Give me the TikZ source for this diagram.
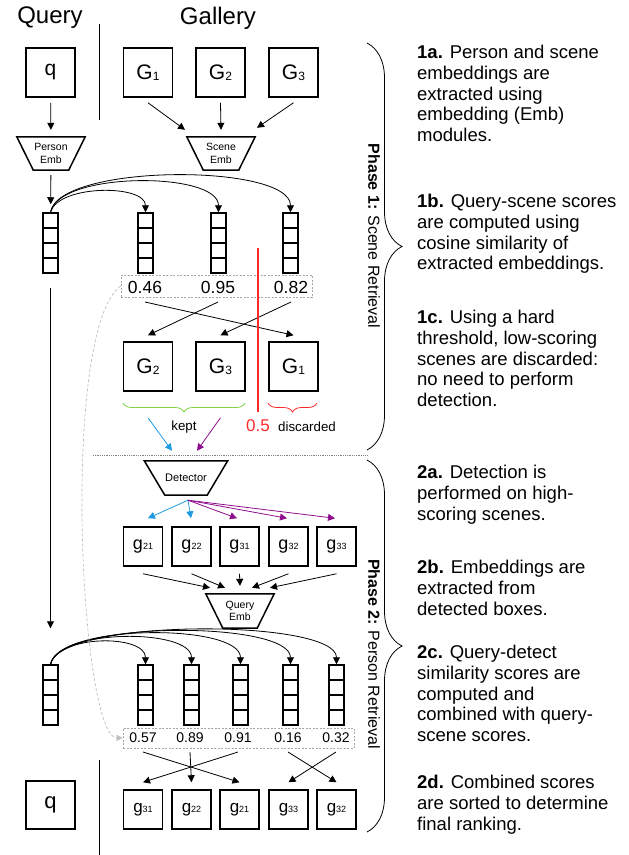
\documentclass[tikz,border=0pt]{standalone}
\usepackage{fontspec}
\setmainfont{Liberation Sans}
\usepackage{tikz}
\usetikzlibrary{arrows.meta,shapes.geometric,decorations.pathreplacing,calc}
\definecolor{kblue}{HTML}{1E9BE0}
\definecolor{kpurple}{HTML}{8E0E8E}
\definecolor{kgreen}{HTML}{80D040}
\definecolor{kred}{HTML}{FF2A2A}
\newcommand{\fsz}[1]{\fontsize{#1}{#1}\selectfont}
\newcommand{\sbx}[2]{\raisebox{-0.5pt}{\fsz{#1}#2}}

\begin{document}
\begin{tikzpicture}[x=1pt,y=-1pt,
    bigbox/.style={draw, line width=1.5pt, minimum width=49, minimum height=49, inner sep=0, font=\fsz{21}},
    gbox/.style={draw, line width=1.5pt, minimum width=39, minimum height=39, inner sep=0, font=\fsz{18}},
    vecbox/.style={draw, line width=1.5pt, minimum width=15, minimum height=60, inner sep=0, path picture={
        \foreach \k in {1,2,3}
          \draw[line width=1.5pt] ($(path picture bounding box.north west)!\k/4!(path picture bounding box.south west)$) -- ($(path picture bounding box.north east)!\k/4!(path picture bounding box.south east)$);}},
    emb/.style={inner sep=0, align=center, font=\fontsize{10.5}{12.5}\selectfont},
    embline/.style={line width=1.5pt, line join=miter},
    scorebox/.style={draw=gray!70, dash pattern=on 2pt off 1.5pt, line width=0.7pt, inner sep=0},
    arr/.style={-{Triangle[length=7pt,width=7pt]}, line width=0.8pt},
    note/.style={anchor=north west, align=left, inner sep=0, font=\fontsize{18.5}{20.7}\selectfont},
    phase/.style={rotate=-90, inner sep=0, font=\fsz{16}}
  ]
  \useasboundingbox (0,0) rectangle (629,855);

  \node[font=\fsz{24}] (hq) at (50,18) {Query};
  \node[font=\fsz{24}] (hg) at (218,18) {Gallery};
  \draw[line width=0.8pt] (99,24) -- (99,120);

  \node[bigbox] (q1) at (50.5,72.5) {q};
  \node[bigbox] (ga) at (148,72.5) {G\sbx{12}{1}};
  \node[bigbox] (gb) at (220.5,72.5) {G\sbx{12}{2}};
  \node[bigbox] (gc) at (293.5,72.5) {G\sbx{12}{3}};

  \node[emb, minimum width=68, minimum height=33] (pemb) at (51,153.5) {Person\\Emb};
  \draw[embline] (pemb.north west) -- (pemb.north east) -- ([xshift=-16.5pt]pemb.south east) -- ([xshift=16.5pt]pemb.south west) -- cycle;
  \node[emb, minimum width=68, minimum height=33] (semb) at (221,153.5) {Scene\\Emb};
  \draw[embline] (semb.north west) -- (semb.north east) -- ([xshift=-16.5pt]semb.south east) -- ([xshift=16.5pt]semb.south west) -- cycle;

  \draw[arr, shorten <=5pt, shorten >=7pt] (q1) -- (pemb);
  \draw[arr] ([yshift=-5pt]ga.south) -- ([shift={(-36,-7)}]semb.north);
  \draw[arr] ([yshift=-5pt]gb.south) -- ([shift={(0,-7)}]semb.north);
  \draw[arr] ([yshift=-5pt]gc.south) -- ([shift={(36,-9)}]semb.north);

  \node[vecbox] (vq1) at (50.5,243) {};
  \node[vecbox] (v1) at (145.5,243) {};
  \node[vecbox] (v2) at (218.5,243) {};
  \node[vecbox] (v3) at (290.5,243) {};

  \draw[arr, shorten <=5pt, shorten >=8pt] (pemb) -- (vq1);
  \draw[arr] (vq1.north) .. controls +(8,-28) and +(0,-28) .. (v1.north);
  \draw[arr] (vq1.north) .. controls +(8,-41) and +(0,-41) .. (v2.north);
  \draw[arr] (vq1.north) .. controls +(8,-49) and +(0,-49) .. (v3.north);

  \node[scorebox, minimum width=191, minimum height=22] (sc1) at (216.5,286) {};
  \node[font=\fsz{17.5}] (s1) at (145,287) {0.46};
  \node[font=\fsz{17.5}] (s2) at (218,287) {0.95};
  \node[font=\fsz{17.5}] (s3) at (291,287) {0.82};

  \node[bigbox] (r2) at (148,366.5) {G\sbx{12}{2}};
  \node[bigbox] (r3) at (220.5,366.5) {G\sbx{12}{3}};
  \node[bigbox] (r1) at (293.5,366.5) {G\sbx{12}{1}};

  \draw[arr] ([yshift=-15pt]s1.center) -- ([yshift=6pt]r1.north);
  \draw[arr] ([yshift=-15pt]s2.center) -- ([yshift=6pt]r2.north);
  \draw[arr] ([yshift=-15pt]s3.center) -- ([yshift=6pt]r3.north);

  \node[text=kred, font=\fsz{17}, inner sep=0] (th) at (258,426) {0.5};
  \draw[kred, line width=1.3pt] (258,248) -- ([yshift=8pt]th.north);

  \draw[kgreen, decorate, decoration={brace, amplitude=9pt}, line width=0.8pt] (245,403) -- (123,403);
  \draw[kred, decorate, decoration={brace, amplitude=9pt}, line width=0.8pt] (317,403) -- (268,403);
  \node[font=\fsz{13.3}] (kp) at (184,427) {kept};
  \node[font=\fsz{13.3}] (dc) at (307,427) {discarded};

  \draw[gray, densely dotted, line width=0.8pt] (93,455) -- (367,455);

  \node[emb, minimum width=83, minimum height=34, font=\fsz{11}] (det) at (186,478) {Detector};
  \draw[embline] (det.north west) -- (det.north east) -- ([xshift=-20.5pt]det.south east) -- ([xshift=20.5pt]det.south west) -- cycle;
  \draw[arr, kblue] ([yshift=-26pt]r2.south) -- ([shift={(-14,-10)}]det.north);
  \draw[arr, kpurple] ([yshift=-26pt]r3.south) -- ([shift={(11,-10)}]det.north);

  \node[gbox] (h1) at (143,546.5) {g\sbx{9}{21}};
  \node[gbox] (h2) at (191.5,546.5) {g\sbx{9}{22}};
  \node[gbox] (h3) at (239.5,546.5) {g\sbx{9}{31}};
  \node[gbox] (h4) at (288.5,546.5) {g\sbx{9}{32}};
  \node[gbox] (h5) at (336.5,546.5) {g\sbx{9}{33}};

  \coordinate (dt) at ([shift={(2,5)}]det.south);
  \draw[arr, kblue] (dt) -- ([shift={(5,-8)}]h1.north);
  \draw[arr, kblue] (dt) -- ([shift={(-0.5,-8)}]h2.north);
  \draw[arr, kpurple] (dt) -- ([shift={(-2.5,-8)}]h3.north);
  \draw[arr, kpurple] (dt) -- ([shift={(-1.5,-8)}]h4.north);
  \draw[arr, kpurple] (dt) -- ([shift={(-1.5,-8)}]h5.north);

  \node[emb, minimum width=68, minimum height=34] (qemb) at (240,611) {Query\\Emb};
  \draw[embline] (qemb.north west) -- (qemb.north east) -- ([xshift=-17pt]qemb.south east) -- ([xshift=17pt]qemb.south west) -- cycle;
  \draw[arr] ([yshift=-7pt]h1.south) -- ([shift={(-30,-6)}]qemb.north);
  \draw[arr] ([yshift=-7pt]h2.south) -- ([shift={(-15,-6)}]qemb.north);
  \draw[arr] ([yshift=-7pt]h3.south) -- ([shift={(0,-8)}]qemb.north);
  \draw[arr] ([yshift=-7pt]h4.south) -- ([shift={(12,-6)}]qemb.north);
  \draw[arr] ([yshift=-7pt]h5.south) -- ([shift={(30,-6)}]qemb.north);

  \node[vecbox] (vq2) at (50.5,695) {};
  \node[vecbox] (w1) at (145.5,695) {};
  \node[vecbox] (w2) at (191.5,695) {};
  \node[vecbox] (w3) at (240.5,695) {};
  \node[vecbox] (w4) at (290.5,695) {};
  \node[vecbox] (w5) at (336.5,695) {};

  \draw[arr, shorten <=14pt, shorten >=36pt] (vq1) -- (vq2);
  \draw[arr] (vq2.north) .. controls +(8,-30) and +(0,-30) .. (w1.north);
  \draw[arr] (vq2.north) .. controls +(8,-36) and +(0,-36) .. (w2.north);
  \draw[arr] (vq2.north) .. controls +(8,-41) and +(0,-41) .. (w3.north);
  \draw[arr] (vq2.north) .. controls +(8,-44) and +(0,-44) .. (w4.north);
  \draw[arr] (vq2.north) .. controls +(8,-46) and +(0,-46) .. (w5.north);

  \node[scorebox, minimum width=231, minimum height=20] (sc2) at (238.5,738) {};
  \node[font=\fsz{14}] (t1) at (143,738) {0.57};
  \node[font=\fsz{14}] (t2) at (190,738) {0.89};
  \node[font=\fsz{14}] (t3) at (238,738) {0.91};
  \node[font=\fsz{14}] (t4) at (288,738) {0.16};
  \node[font=\fsz{14}] (t5) at (336,738) {0.32};

  \draw[gray!50, dash pattern=on 3pt off 2pt, line width=0.7pt, -{Triangle[length=6pt,width=6pt]}] (sc1.west) .. controls (60,330) and (80,737) .. (sc2.west);

  \node[gbox, font=\fsz{17}] (f1) at (143,809.5) {g\sbx{9}{31}};
  \node[gbox, font=\fsz{17}] (f2) at (191.5,809.5) {g\sbx{9}{22}};
  \node[gbox, font=\fsz{17}] (f3) at (239.5,809.5) {g\sbx{9}{21}};
  \node[gbox, font=\fsz{17}] (f4) at (288.5,809.5) {g\sbx{9}{33}};
  \node[gbox, font=\fsz{17}] (f5) at (336.5,809.5) {g\sbx{9}{32}};

  \draw[arr] ([yshift=-14pt]t1.center) -- ([yshift=7pt]f3.north);
  \draw[arr] ([yshift=-14pt]t2.center) -- ([yshift=7pt]f2.north);
  \draw[arr] ([yshift=-14pt]t3.center) -- ([yshift=7pt]f1.north);
  \draw[arr] ([yshift=-14pt]t4.center) -- ([yshift=7pt]f5.north);
  \draw[arr] ([yshift=-14pt]t5.center) -- ([yshift=7pt]f4.north);

  \node[bigbox, minimum height=48, font=\fsz{22}] (q2) at (50.5,805) {q};
  \draw[line width=0.8pt] (99,760) -- (99,855);

  \draw[decorate, decoration={brace, amplitude=35pt}, line width=0.8pt] (367,43) -- (367,450);
  \draw[decorate, decoration={brace, amplitude=35pt}, line width=0.8pt] (367,460) -- (367,832);
  \node[phase] (p1) at (374,236) {\textbf{Phase 1:} Scene Retrieval};
  \node[phase] (p2) at (374,654) {\textbf{Phase 2:} Person Retrieval};

  \node[note] (n1a) at (417,45) {\textbf{1a.} Person and scene\\embeddings are\\extracted using\\embedding (Emb)\\modules.};
  \node[note] (n1b) at (417,194) {\textbf{1b.} Query-scene scores\\are computed using\\cosine similarity of\\extracted embeddings.};
  \node[note] (n1c) at (417,310) {\textbf{1c.} Using a hard\\threshold, low-scoring\\scenes are discarded:\\no need to perform\\detection.};
  \node[note] (n2a) at (417,465) {\textbf{2a.} Detection is\\performed on high-\\scoring scenes.};
  \node[note] (n2b) at (417,560) {\textbf{2b.} Embeddings are\\extracted from\\detected boxes.};
  \node[note] (n2c) at (417,645) {\textbf{2c.} Query-detect\\similarity scores are\\computed and\\combined with query-\\scene scores.};
  \node[note] (n2d) at (417,775) {\textbf{2d.} Combined scores\\are sorted to determine\\final ranking.};
\end{tikzpicture}
\end{document}
